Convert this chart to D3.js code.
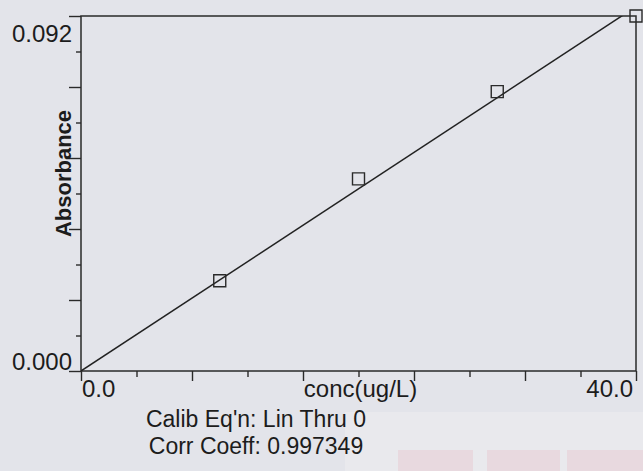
<!DOCTYPE html>
<html>
<head>
<meta charset="utf-8">
<script src="https://cdn.jsdelivr.net/npm/d3@7"></script>
<style>
body { margin: 0; background: #e3e4ea; }
svg { display: block; }
text { font-family: "Liberation Sans", Arial, sans-serif; fill: #1c1c1c; }
</style>
</head>
<body>
<div class="chart"></div>
<script>
// calibration standards
const conc = [10, 20, 30, 40]
const absorbance = [0.0234, 0.0498, 0.0724, 0.0920]

const xTicks = [0, 4, 8, 12, 16, 20, 24, 28, 32, 36, 40]
const yTicks = [0, 0.0092, 0.0184, 0.0276, 0.0368, 0.046, 0.0552, 0.0644, 0.0736, 0.0828, 0.092]
const xLabels = ["0.0", "40.0"]
const yLabels = ["0.000", "0.092"]
const notes = ["Calib Eq'n: Lin Thru 0", "Corr Coeff: 0.997349"]

const margin = {top: 16, right: 7, bottom: 100, left: 81}
const W = 643, H = 471
const width = W - margin.left - margin.right
const height = H - margin.top - margin.bottom

const root = d3.select(".chart").append("svg").attr("width", W).attr("height", H)

// faint print-through at the bottom right of the scan
root.append("rect").attr("x", 345).attr("y", 412).attr("width", 298).attr("height", 59).attr("fill", "#e9e9ed")
root.selectAll("rect.stamp").data([[398, 75], [487, 73], [567, 76]]).enter().append("rect")
  .attr("class", "stamp")
  .attr("x", d => d[0]).attr("y", 450).attr("width", d => d[1]).attr("height", 21)
  .attr("fill", "#e8d9df")

const svg = root.append("g").attr("transform", `translate(${margin.left},${margin.top})`)

const x = d3.scaleLinear().domain([0, 40]).range([0, width])
const y = d3.scaleLinear().domain([0, 0.092]).range([height, 0])

svg.append("clipPath").attr("id", "plot").append("rect").attr("width", width).attr("height", height)

// ticks: long on every other one
const xAxis = svg.append("g").attr("transform", `translate(0,${height})`)
  .call(d3.axisBottom(x).tickValues(xTicks).tickSize(10).tickFormat(""))
xAxis.select(".domain").remove()
xAxis.selectAll(".tick line").attr("y2", (d, i) => i % 2 ? 6 : 10)
  .attr("stroke", "#2a2a2a").attr("stroke-width", 1.4)

const yAxis = svg.append("g")
  .call(d3.axisLeft(y).tickValues(yTicks).tickSize(12).tickFormat(""))
yAxis.select(".domain").remove()
yAxis.selectAll(".tick line").attr("x2", (d, i) => i % 2 ? -5 : -12)
  .attr("stroke", "#2a2a2a").attr("stroke-width", 1.4)

svg.append("rect").attr("width", width).attr("height", height)
  .attr("fill", "none").attr("stroke", "#2a2a2a").attr("stroke-width", 1.5)

// end labels only
svg.append("text").attr("x", -9).attr("y", y(0) - 1).attr("text-anchor", "end")
  .style("font-size", "24px").text(yLabels[0])
svg.append("text").attr("x", -9).attr("y", y(0.092) + 26).attr("text-anchor", "end")
  .style("font-size", "24px").text(yLabels[1])
svg.append("text").attr("x", x(0) + 1).attr("y", height + 26).attr("text-anchor", "start")
  .style("font-size", "24px").text(xLabels[0])
svg.append("text").attr("x", x(40) - 3).attr("y", height + 26).attr("text-anchor", "end")
  .style("font-size", "24px").text(xLabels[1])

svg.append("text").attr("x", width / 2 + 2).attr("y", height + 26).attr("text-anchor", "middle")
  .style("font-size", "24px").text("conc(ug/L)")

svg.append("text").attr("transform", `translate(-10,${height / 2 - 20}) rotate(-90)`)
  .attr("text-anchor", "middle").style("font-size", "22px").style("font-weight", "bold")
  .text("Absorbance")

svg.selectAll("text.note").data(notes).enter().append("text")
  .attr("class", "note")
  .attr("x", 256 - margin.left).attr("y", (d, i) => height + 56 + i * 27)
  .attr("text-anchor", "middle").style("font-size", "23px")
  .text(d => d)

// linear fit through zero
const slope = d3.sum(conc, (c, i) => c * absorbance[i]) / d3.sum(conc, c => c * c)
svg.append("line").attr("clip-path", "url(#plot)")
  .attr("x1", x(0)).attr("y1", y(0))
  .attr("x2", x(40)).attr("y2", y(slope * 40))
  .attr("stroke", "#222").attr("stroke-width", 1.5)

svg.selectAll("path.pt").data(conc).enter().append("path")
  .attr("class", "pt")
  .attr("transform", (d, i) => `translate(${x(d)},${y(absorbance[i])})`)
  .attr("d", d3.symbol().type(d3.symbolSquare).size(144))
  .attr("fill", "none").attr("stroke", "#2a2a2a").attr("stroke-width", 1.4)
</script>
</body>
</html>
